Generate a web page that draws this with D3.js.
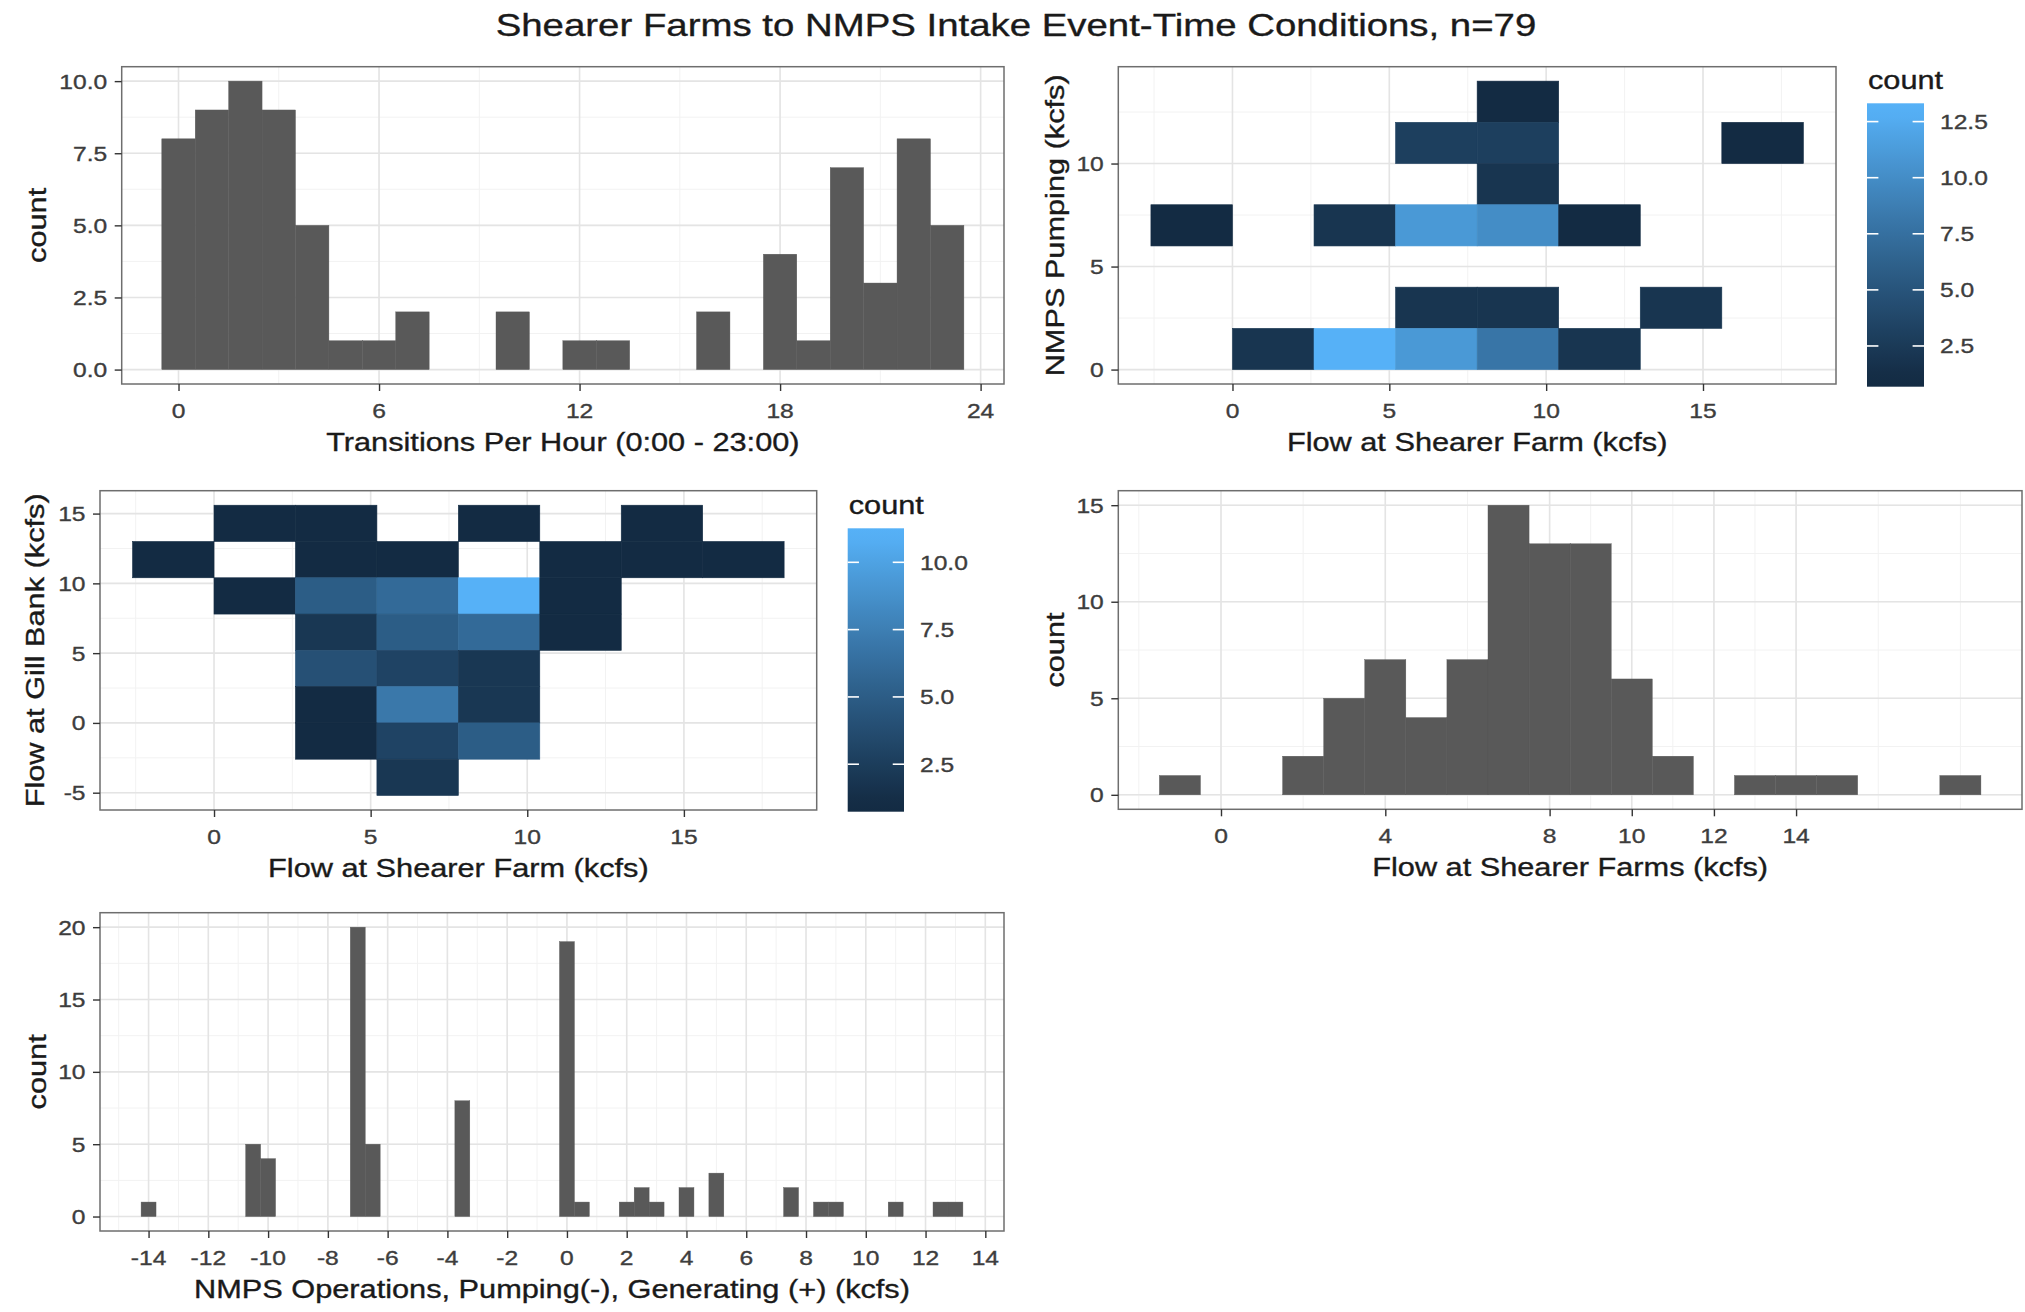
<!DOCTYPE html>
<html>
<head>
<meta charset="utf-8">
<script src="https://cdn.jsdelivr.net/npm/d3@7"></script>
<style>
  body { margin: 0; background: #fff; }
  svg { display: block; }
  text { font-family: "Liberation Sans", Arial, sans-serif; paint-order: stroke; }
</style>
</head>
<body>
<svg id="chart" width="2025" height="1312"></svg>
<script>
// ---------- data ----------
// events per hour of day (bin width 1 h)
const hourValues = d3.range(0, 24);
const hourCounts = [8, 9, 10, 9, 5, 1, 1, 2, 0, 0, 2, 0, 1, 1, 0, 0, 2, 0, 4, 1, 7, 3, 8, 5];
const hourBinWidth = 1;
const hourTicks = [0, 6, 12, 18, 24];
const hourCountTicks = [0, 2.5, 5, 7.5, 10];

// flow at Shearer Farms (bin width 1 kcfs)
const flowValues = d3.range(-1, 19);
const flowCounts = [1, 0, 0, 2, 5, 7, 4, 7, 15, 13, 13, 6, 2, 0, 1, 1, 1, 0, 0, 1];
const flowBinWidth = 1;
const flowTicks = [0, 4, 8, 10, 12, 14];
const flowCountTicks = [0, 5, 10, 15];

// NMPS operations (bin width 0.5 kcfs)
const opsValues = [-14, -10.5, -10, -7, -6.5, -3.5, 0, 0.5, 2, 2.5, 3, 4, 5, 7.5, 8.5, 9, 11, 12.5, 13];
const opsCounts = [1, 5, 4, 20, 5, 8, 19, 1, 1, 2, 1, 2, 3, 2, 1, 1, 1, 1, 1];
const opsBinWidth = 0.5;
const opsTicks = d3.range(-14, 15, 2);
const opsCountTicks = [0, 5, 10, 15, 20];

// 2-D bins: [shearer flow lower edge, second variable lower edge, count]
const shearerBinWidth = 2.6;
const shearerTicks = [0, 5, 10, 15];

const pumpBinHeight = 2;
const pumpTicks = [0, 5, 10];
const pumpCells = [
  [7.8, 12, 1],
  [5.2, 10, 3], [7.8, 10, 3], [15.6, 10, 1],
  [7.8, 8, 2],
  [-2.6, 6, 1], [2.6, 6, 2], [5.2, 6, 11], [7.8, 6, 10], [10.4, 6, 1],
  [5.2, 2, 2], [7.8, 2, 2], [13, 2, 2],
  [0, 0, 2], [2.6, 0, 13], [5.2, 0, 11], [7.8, 0, 8], [10.4, 0, 2]
];
const pumpLegendTicks = [2.5, 5, 7.5, 10, 12.5];

const gillBinHeight = 2.6;
const gillTicks = [-5, 0, 5, 10, 15];
const gillCells = [
  [0, 13, 1], [2.6, 13, 1], [7.8, 13, 1], [13, 13, 1],
  [-2.6, 10.4, 1], [2.6, 10.4, 1], [5.2, 10.4, 1], [10.4, 10.4, 1], [13, 10.4, 1], [15.6, 10.4, 1],
  [0, 7.8, 1], [2.6, 7.8, 5], [5.2, 7.8, 6], [7.8, 7.8, 11], [10.4, 7.8, 1],
  [2.6, 5.2, 2], [5.2, 5.2, 5], [7.8, 5.2, 6], [10.4, 5.2, 1],
  [2.6, 2.6, 4], [5.2, 2.6, 3], [7.8, 2.6, 2],
  [2.6, 0, 1], [5.2, 0, 7], [7.8, 0, 2],
  [2.6, -2.6, 1], [5.2, -2.6, 3], [7.8, -2.6, 5],
  [5.2, -5.2, 2]
];
const gillLegendTicks = [2.5, 5, 7.5, 10];

const mainTitle = "Shearer Farms to NMPS Intake Event-Time Conditions, n=79";

// ---------- style ----------
const SX = 1.2;               // horizontal stretch of all lettering
const TICK_FS = 20.5, TITLE_FS = 25.6, MAIN_FS = 32;
const BAR_FILL = "#595959";
const LOW = "#132B43", HIGH = "#56B1F7";

const svg = d3.select("#chart");
svg.append("rect").attr("width", 2025).attr("height", 1312).attr("fill", "#fff");

function label(g, x, y, txt, o = {}) {
  const fill = o.fill || "#3d3d3d";
  return g.append("text")
    .attr("transform", `translate(${x},${y}) rotate(${o.rotate || 0}) scale(${SX},1)`)
    .attr("text-anchor", o.anchor || "middle")
    .attr("dy", o.dy || null)
    .attr("font-size", o.size || TICK_FS)
    .attr("fill", fill)
    .attr("stroke", fill).attr("stroke-width", 0.35)
    .text(txt);
}

function expand(lo, hi) { const p = (hi - lo) * 0.05; return [lo - p, hi + p]; }

// minor breaks between (and one step beyond) the major ones
function minorBreaks(b, lim) {
  const bd = b[1] - b[0];
  const bb = b.slice();
  if (lim[0] < bb[0]) bb.unshift(bb[0] - bd);
  if (lim[1] > bb[bb.length - 1]) bb.push(bb[bb.length - 1] + bd);
  const out = [];
  for (let i = 0; i < bb.length - 1; i++) out.push(bb[i], (bb[i] + bb[i + 1]) / 2);
  out.push(bb[bb.length - 1]);
  return out.filter(v => v >= lim[0] && v <= lim[1]);
}

// panel frame, grid, axes and titles; returns scales and a layer for marks
function panel(box, xDom, yDom, xTicks, yTicks, xTitle, yTitle, yTitleX, yFmt) {
  const [x0, x1, y0, y1] = box;
  const x = d3.scaleLinear().domain(xDom).range([x0, x1]);
  const y = d3.scaleLinear().domain(yDom).range([y1, y0]);
  const g = svg.append("g");
  g.append("rect").attr("x", x0).attr("y", y0).attr("width", x1 - x0).attr("height", y1 - y0).attr("fill", "#fff");

  const grid = g.append("g");
  minorBreaks(xTicks, xDom).forEach(v => grid.append("line")
    .attr("x1", x(v)).attr("x2", x(v)).attr("y1", y0).attr("y2", y1)
    .attr("stroke", "#f2f2f2").attr("stroke-width", 1));
  minorBreaks(yTicks, yDom).forEach(v => grid.append("line")
    .attr("y1", y(v)).attr("y2", y(v)).attr("x1", x0).attr("x2", x1)
    .attr("stroke", "#f2f2f2").attr("stroke-width", 1));
  xTicks.forEach(v => grid.append("line")
    .attr("x1", x(v)).attr("x2", x(v)).attr("y1", y0).attr("y2", y1)
    .attr("stroke", "#e4e4e4").attr("stroke-width", 1.6));
  yTicks.forEach(v => grid.append("line")
    .attr("y1", y(v)).attr("y2", y(v)).attr("x1", x0).attr("x2", x1)
    .attr("stroke", "#e4e4e4").attr("stroke-width", 1.6));

  const marks = g.append("g");
  const over = g.append("g");
  over.append("rect").attr("x", x0).attr("y", y0).attr("width", x1 - x0).attr("height", y1 - y0)
    .attr("fill", "none").attr("stroke", "#6e6e6e").attr("stroke-width", 1.5);

  // axes: tick marks from d3, lettering drawn separately
  const xa = over.append("g").attr("transform", `translate(0,${y1})`)
    .call(d3.axisBottom(x).tickValues(xTicks).tickSize(7).tickPadding(0).tickFormat(""));
  const ya = over.append("g").attr("transform", `translate(${x0},0)`)
    .call(d3.axisLeft(y).tickValues(yTicks).tickSize(7).tickPadding(0).tickFormat(""));
  [xa, ya].forEach(a => {
    a.select(".domain").remove();
    a.selectAll(".tick line").attr("stroke", "#333").attr("stroke-width", 1.4);
  });
  xTicks.forEach(v => label(over, x(v), y1 + 34, String(v)));
  yTicks.forEach(v => label(over, x0 - 14.5, y(v), yFmt ? yFmt(v) : String(v), { anchor: "end", dy: "0.36em" }));

  label(over, (x0 + x1) / 2, y1 + 67, xTitle, { size: TITLE_FS, fill: "#1a1a1a" });
  label(over, yTitleX, (y0 + y1) / 2, yTitle, { size: TITLE_FS, fill: "#1a1a1a", rotate: -90 });
  return { x, y, marks };
}

function histogram(box, values, counts, bw, xTicks, yTicks, xTitle, yTitleX, yFmt) {
  const xDom = expand(d3.min(values) - bw / 2, d3.max(values) + bw / 2);
  const yDom = expand(0, d3.max(counts));
  const p = panel(box, xDom, yDom, xTicks, yTicks, xTitle, "count", yTitleX, yFmt);
  const rows = values.map((v, i) => ({ v, c: counts[i] })).filter(d => d.c > 0);
  p.marks.selectAll("rect").data(rows).join("rect")
    .attr("x", d => p.x(d.v - bw / 2))
    .attr("width", d => p.x(d.v + bw / 2) - p.x(d.v - bw / 2))
    .attr("y", d => p.y(d.c))
    .attr("height", d => p.y(0) - p.y(d.c))
    .attr("fill", BAR_FILL)
    .attr("stroke", BAR_FILL).attr("stroke-width", 0.4);
}

function heatmap(box, cells, bw, bh, xTicks, yTicks, xTitle, yTitle, yTitleX, legendBox, legendTicks) {
  const xDom = expand(d3.min(cells, d => d[0]), d3.max(cells, d => d[0]) + bw);
  const yDom = expand(d3.min(cells, d => d[1]), d3.max(cells, d => d[1]) + bh);
  const p = panel(box, xDom, yDom, xTicks, yTicks, xTitle, yTitle, yTitleX);
  const cMax = d3.max(cells, d => d[2]);
  const color = d3.scaleLinear().domain([1, cMax]).range([LOW, HIGH]).interpolate(d3.interpolateLab).clamp(true);
  p.marks.selectAll("rect").data(cells).join("rect")
    .attr("x", d => p.x(d[0]))
    .attr("width", d => p.x(d[0] + bw) - p.x(d[0]))
    .attr("y", d => p.y(d[1] + bh))
    .attr("height", d => p.y(d[1]) - p.y(d[1] + bh))
    .attr("fill", d => color(d[2]))
    .attr("stroke", d => color(d[2])).attr("stroke-width", 0.6);

  // colour bar: limits sit half a bin (of 20) inside each end
  const [lx0, lx1, ly0, ly1] = legendBox;
  const pad = (cMax - 1) / 19 / 2;
  const ls = d3.scaleLinear().domain([1 - pad, cMax + pad]).range([ly1, ly0]);
  const id = "grad" + Math.round(lx0);
  const grad = svg.append("defs").append("linearGradient").attr("id", id)
    .attr("x1", 0).attr("y1", 1).attr("x2", 0).attr("y2", 0);
  d3.range(0, 21).forEach(i => {
    const v = (1 - pad) + (cMax - 1 + 2 * pad) * i / 20;
    grad.append("stop").attr("offset", (i / 20 * 100) + "%").attr("stop-color", color(v));
  });
  const lg = svg.append("g");
  lg.append("rect").attr("x", lx0).attr("y", ly0).attr("width", lx1 - lx0).attr("height", ly1 - ly0)
    .attr("fill", `url(#${id})`);
  const tl = (lx1 - lx0) / 5;
  legendTicks.forEach(v => {
    [[lx0, lx0 + tl], [lx1 - tl, lx1]].forEach(([a, b]) => lg.append("line")
      .attr("x1", a).attr("x2", b).attr("y1", ls(v)).attr("y2", ls(v))
      .attr("stroke", "#fff").attr("stroke-width", 1.6));
    label(lg, lx1 + 16, ls(v), d3.format(".1f")(v), { anchor: "start", dy: "0.36em" });
  });
  label(lg, lx0 + 1, ly0 - 14, "count", { anchor: "start", size: TITLE_FS, fill: "#1a1a1a" });
}

// ---------- layout ----------
label(svg, 1016, 36, mainTitle, { size: MAIN_FS, fill: "#1a1a1a" });

histogram([121.7, 1004, 66.7, 384], hourValues, hourCounts, hourBinWidth,
  hourTicks, hourCountTicks, "Transitions Per Hour (0:00 - 23:00)", 46, d3.format(".1f"));

heatmap([1118.3, 1836, 66.7, 384], pumpCells, shearerBinWidth, pumpBinHeight,
  shearerTicks, pumpTicks, "Flow at Shearer Farm (kcfs)", "NMPS Pumping (kcfs)", 1064,
  [1867, 1924, 103.3, 386.7], pumpLegendTicks);

heatmap([100, 816.7, 490.7, 810], gillCells, shearerBinWidth, gillBinHeight,
  shearerTicks, gillTicks, "Flow at Shearer Farm (kcfs)", "Flow at Gill Bank (kcfs)", 44,
  [847.7, 904, 528.3, 811.7], gillLegendTicks);

histogram([1118.3, 2022, 490.7, 809.3], flowValues, flowCounts, flowBinWidth,
  flowTicks, flowCountTicks, "Flow at Shearer Farms (kcfs)", 1064);

histogram([100, 1004, 912.7, 1231], opsValues, opsCounts, opsBinWidth,
  opsTicks, opsCountTicks, "NMPS Operations, Pumping(-), Generating (+) (kcfs)", 46);
</script>
</body>
</html>
